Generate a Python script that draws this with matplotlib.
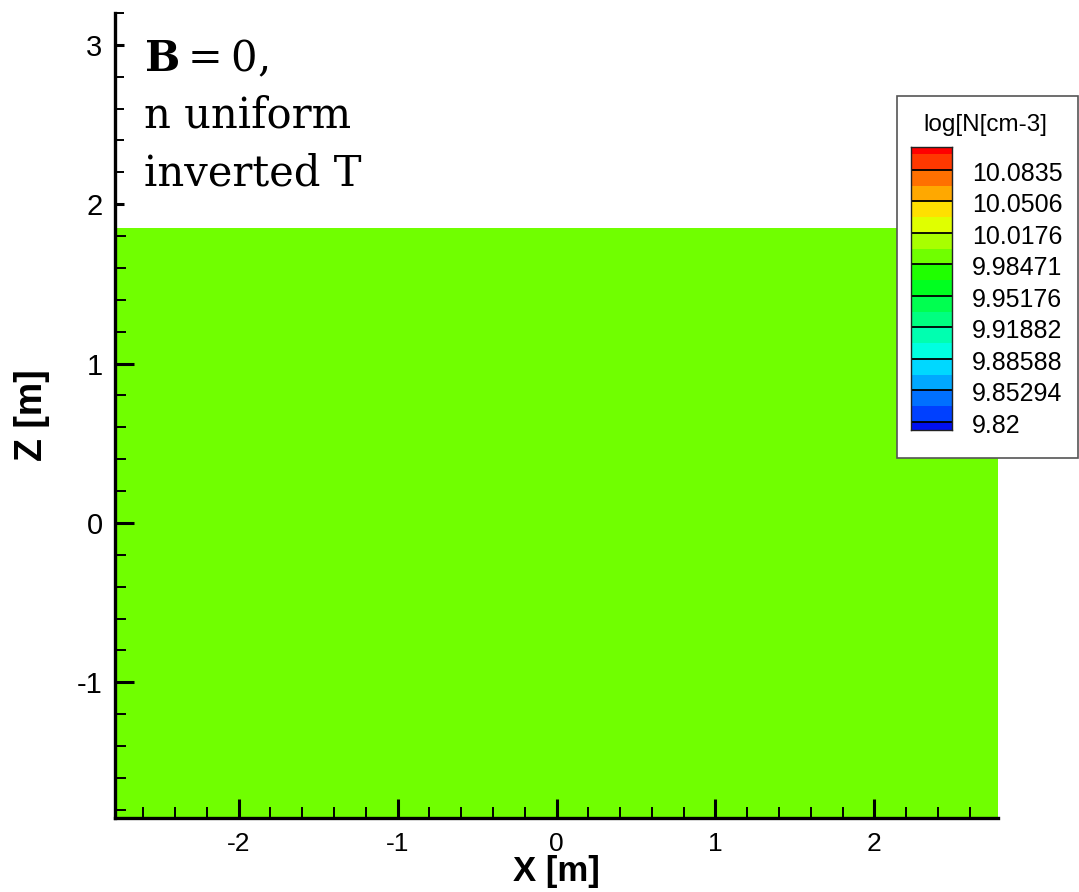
import numpy as np
import matplotlib
matplotlib.use("Agg")
import matplotlib.pyplot as plt
from matplotlib.colors import ListedColormap, BoundaryNorm
from matplotlib.patches import Rectangle
from matplotlib.ticker import MultipleLocator, FixedLocator
from matplotlib import transforms

# Simulation domain (metres) and the uniform density field, log10(N [cm^-3])
x_edges = [-2.777, 2.777]
z_edges = [-1.852, 1.852]
log_density = [[10.0]]

# Contour levels listed in the legend
level_labels = ["9.82", "9.85294", "9.88588", "9.91882", "9.95176",
                "9.98471", "10.0176", "10.0506", "10.0835"]
level_values = [9.82, 9.852941, 9.885882, 9.918824, 9.951765,
                9.984706, 10.017647, 10.050588, 10.083529]

# Flood colours, one per half-level band, from the lowest band upward
band_colors = ["#0010f0", "#0040ff", "#0070ff", "#00a8ff", "#00d8ff",
               "#00ffe0", "#00ffb0", "#00ff80", "#00ff50", "#00ff20",
               "#20ff00", "#70ff00", "#a8ff00", "#e0ff00", "#ffe000",
               "#ffa800", "#ff7000", "#ff3800", "#ff0000"]

x_ticks = [-2, -1, 0, 1, 2]
z_ticks = [-1, 0, 1, 2, 3]

plt.rcParams["font.family"] = ["Liberation Sans", "DejaVu Sans"]
plt.rcParams["mathtext.fontset"] = "dejavuserif"

# band boundaries: every level plus the midpoints between levels
half = (level_values[1] - level_values[0]) / 2.0
bounds = [level_values[0] - half]
for a, b in zip(level_values[:-1], level_values[1:]):
    bounds += [a, (a + b) / 2.0]
bounds += [level_values[-1], level_values[-1] + half, level_values[-1] + 2 * half]
cmap = ListedColormap(band_colors)
norm = BoundaryNorm(bounds, cmap.N)

W, H = 1079, 892
fig = plt.figure(figsize=(W / 100, H / 100), dpi=100)

ax_left, ax_right, ax_bot, ax_top = 115, 998, 818, 13
ax = fig.add_axes([ax_left / W, 1 - ax_bot / H,
                   (ax_right - ax_left) / W, (ax_bot - ax_top) / H])

ax.pcolormesh(x_edges, z_edges, np.array(log_density), cmap=cmap, norm=norm,
              shading="flat", zorder=1)
ax.set_xlim(x_edges[0], x_edges[1])
ax.set_ylim(z_edges[0], 3.2)

for side in ("top", "right"):
    ax.spines[side].set_visible(False)
for side in ("left", "bottom"):
    ax.spines[side].set_linewidth(2.4)
    ax.spines[side].set_zorder(5)

ax.xaxis.set_major_locator(FixedLocator(x_ticks))
ax.yaxis.set_major_locator(FixedLocator(z_ticks))
ax.xaxis.set_minor_locator(MultipleLocator(0.2))
ax.yaxis.set_minor_locator(MultipleLocator(0.2))
ax.tick_params(which="both", direction="in", top=False, right=False)
ax.tick_params(which="major", length=14, width=2.2)
ax.tick_params(which="minor", length=8, width=1.4)
ax.tick_params(axis="x", which="major", labelsize=19, pad=10)
ax.tick_params(axis="y", which="major", labelsize=21, pad=9)
ax.set_xticklabels([str(t) for t in x_ticks])
ax.set_yticklabels([str(t) for t in z_ticks])

# ticks above the flooded region are drawn shorter
z_top = z_edges[1]
for tick, loc in zip(ax.yaxis.get_major_ticks(len(z_ticks)), z_ticks):
    if loc > z_top:
        tick.tick1line.set_markersize(6.5)
minor_locs = ax.yaxis.get_minorticklocs()
for tick, loc in zip(ax.yaxis.get_minor_ticks(len(minor_locs)), minor_locs):
    if loc > z_top:
        tick.tick1line.set_markersize(6.5)

ax.set_xlabel("X [m]", fontsize=25, fontweight="bold")
ax.set_ylabel("Z [m]", fontsize=27, fontweight="bold")
ax.xaxis.set_label_coords(0.5, -0.046)
ax.yaxis.set_label_coords(-0.074, 0.5)

# case description in the upper-left corner
text_x = 144 / W
serif = dict(family="DejaVu Serif", size=30, va="baseline", ha="left")
fig.text(text_x, 1 - 71 / H, r"$\mathbf{B}$" + "\u2009=\u20090,", **serif)
fig.text(text_x, 1 - 128 / H, "n uniform", **serif)
fig.text(text_x, 1 - 185 / H, "inverted T", **serif)

# legend frame
box = Rectangle((897 / W, 1 - 458 / H), (1078 - 897) / W, (458 - 96) / H,
                transform=fig.transFigure, facecolor="white",
                edgecolor="#555555", linewidth=1.2, zorder=2)
fig.add_artist(box)
fig.text(985 / W, 1 - 125 / H, "log[N[cm-3]", fontsize=17.5,
         ha="center", va="center", zorder=3)

# legend colour bar
cb_left, cb_right, cb_top, cb_bot = 911, 952, 147, 430
cax = fig.add_axes([cb_left / W, 1 - cb_bot / H,
                    (cb_right - cb_left) / W, (cb_bot - cb_top) / H])
cax.set_zorder(4)
band_mid = [[(a + b) / 2.0] for a, b in zip(bounds[:-1], bounds[1:])]
cax.pcolormesh([0, 1], bounds, np.array(band_mid), cmap=cmap, norm=norm,
               shading="flat")
for v in level_values:
    cax.axhline(v, color="black", linewidth=1.3)
cax.set_xlim(0, 1)
cax.set_ylim(9.8116, 10.1075)
cax.set_xticks([])
cax.set_yticks([])
for s in cax.spines.values():
    s.set_linewidth(1.0)
    s.set_color("#222222")

label_trans = transforms.offset_copy(cax.get_yaxis_transform(), fig=fig,
                                     y=-4, units="dots")
for v, lab in zip(level_values, level_labels):
    cax.text((972 - cb_left) / (cb_right - cb_left), v, lab, fontsize=18,
             ha="left", va="center", transform=label_trans, clip_on=False)

fig.savefig("out.png", dpi=100)
